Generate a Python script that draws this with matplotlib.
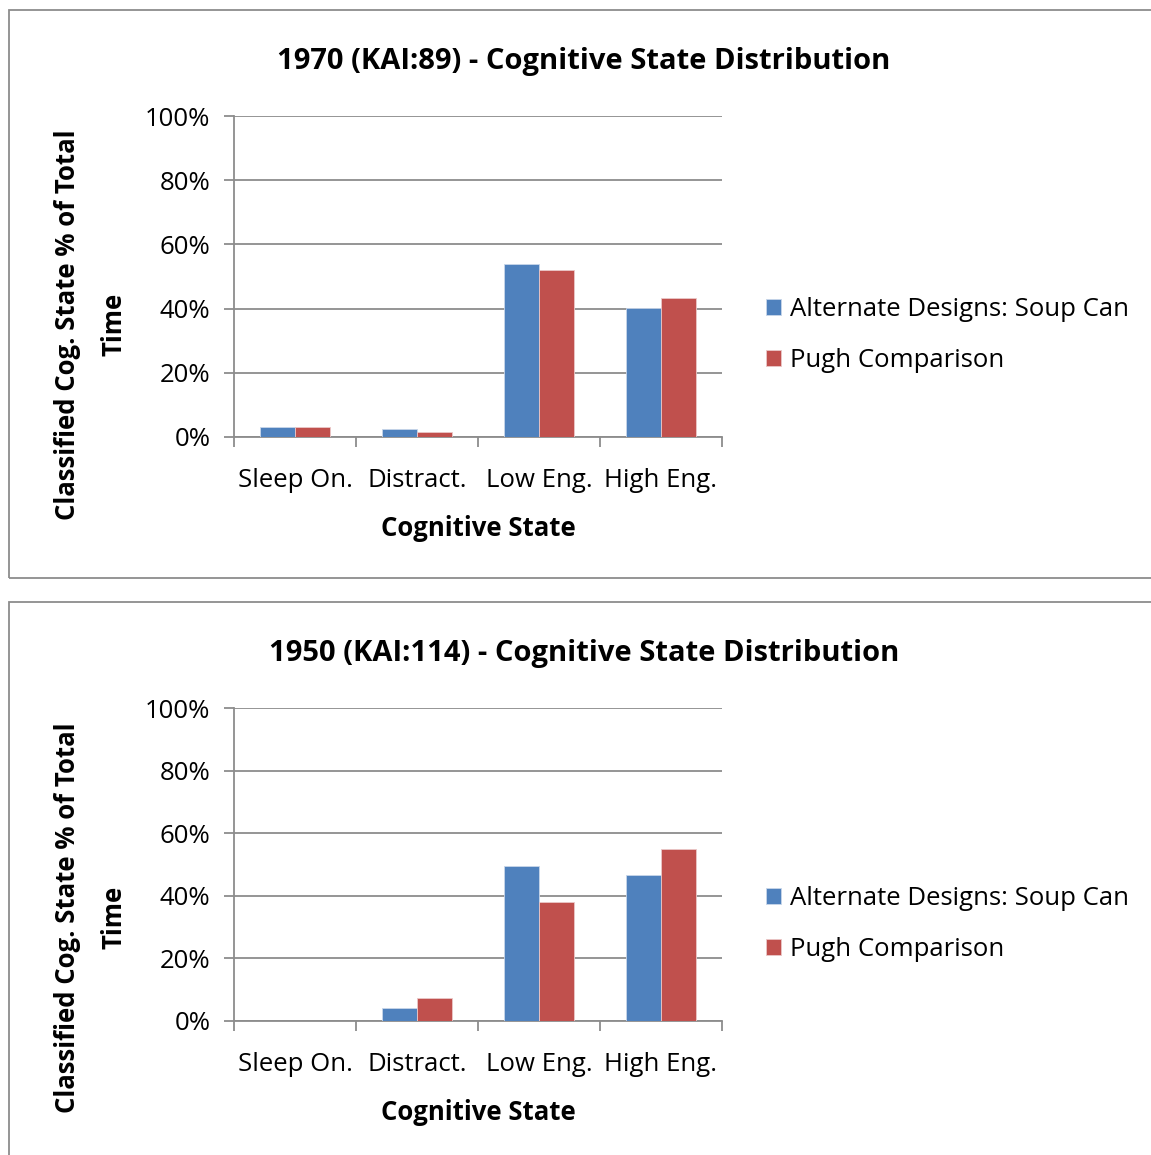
import numpy as np
import matplotlib.pyplot as plt
from matplotlib.patches import Rectangle

plt.rcParams['font.family'] = ['Open Sans', 'DejaVu Sans']

# --- Daten ---
states = ['Sleep On.', 'Distract.', 'Low Eng.', 'High Eng.']
series_names = ['Alternate Designs: Soup Can', 'Pugh Comparison']
titles = ['1970 (KAI:89) - Cognitive State Distribution',
          '1950 (KAI:114) - Cognitive State Distribution']
soup_1970 = [3.1, 2.5, 53.8, 40.3]
pugh_1970 = [3.1, 1.6, 52.0, 43.2]
soup_1950 = [0.0, 4.0, 49.4, 46.7]
pugh_1950 = [0.0, 7.3, 37.9, 54.9]

colors = ['#4F81BD', '#C0504D']
W, H = 1151, 1155
fs = 18.5

fig = plt.figure(figsize=(W / 100, H / 100), dpi=100)

# Rahmen der beiden Diagramme
for (y0, y1) in [(10, 578), (602, 1160)]:
    fig.patches.append(Rectangle((9 / W, 1 - y1 / H), 1.2, (y1 - y0) / H,
                                 transform=fig.transFigure, fill=False,
                                 edgecolor='#8c8c8c', lw=1.3))

panels = [
    (titles[0], soup_1970, pugh_1970, 116, 437, 61, 0.35, 0.318),
    (titles[1], soup_1950, pugh_1950, 708, 1021, 653, 0.33, 0.31),
]

x = np.arange(len(states)) + 0.5
bw = 0.286

for title, s1, s2, ytop, ybot, ytitle, ylab_pos, leg_pos in panels:
    ax = fig.add_axes([234 / W, 1 - ybot / H, (722 - 234) / W, (ybot - ytop) / H])
    ax.bar(x - bw / 2, s1, bw, color=colors[0], edgecolor='#c8d6ea', lw=0.6,
           label=series_names[0], zorder=3)
    ax.bar(x + bw / 2, s2, bw, color=colors[1], edgecolor='#eac8c8', lw=0.6,
           label=series_names[1], zorder=3)
    ax.set_xlim(0, 4)
    ax.set_ylim(0, 100)
    ax.set_yticks(np.arange(0, 101, 20))
    ax.set_yticklabels([f'{v}%' for v in range(0, 101, 20)], fontsize=fs)
    ax.set_xticks(np.arange(0, 5))
    ax.set_xticklabels([])
    ax.set_xticks(x, minor=True)
    ax.set_xticklabels(states, minor=True, fontsize=fs)
    ax.tick_params(axis='x', which='minor', length=0, pad=22)
    ax.tick_params(axis='x', which='major', length=7, width=1.3, color='#8c8c8c')
    ax.tick_params(axis='y', length=7, width=1.3, color='#8c8c8c', pad=10)
    ax.grid(axis='y', color='#8c8c8c', lw=1.3, zorder=0)
    for sp in ['top', 'right']:
        ax.spines[sp].set_visible(False)
    for sp in ['left', 'bottom']:
        ax.spines[sp].set_color('#8c8c8c')
        ax.spines[sp].set_linewidth(1.3)
    ax.set_xlabel('Cognitive State', fontsize=fs, fontweight='bold', labelpad=16)
    ax.set_ylabel('Classified Cog. State % of Total\nTime', fontsize=fs,
                  fontweight='bold', linespacing=1.95)
    ax.yaxis.set_label_coords(-0.218, ylab_pos)
    fig.text(584 / W, 1 - ytitle / H, title, fontsize=21, fontweight='bold',
             ha='center', va='center')
    ax.legend(loc='center left', bbox_to_anchor=(1.042, leg_pos),
              frameon=False, fontsize=fs, handlelength=0.6, handleheight=0.6,
              handletextpad=0.35, labelspacing=1.0)

fig.savefig('out.png', dpi=100)
